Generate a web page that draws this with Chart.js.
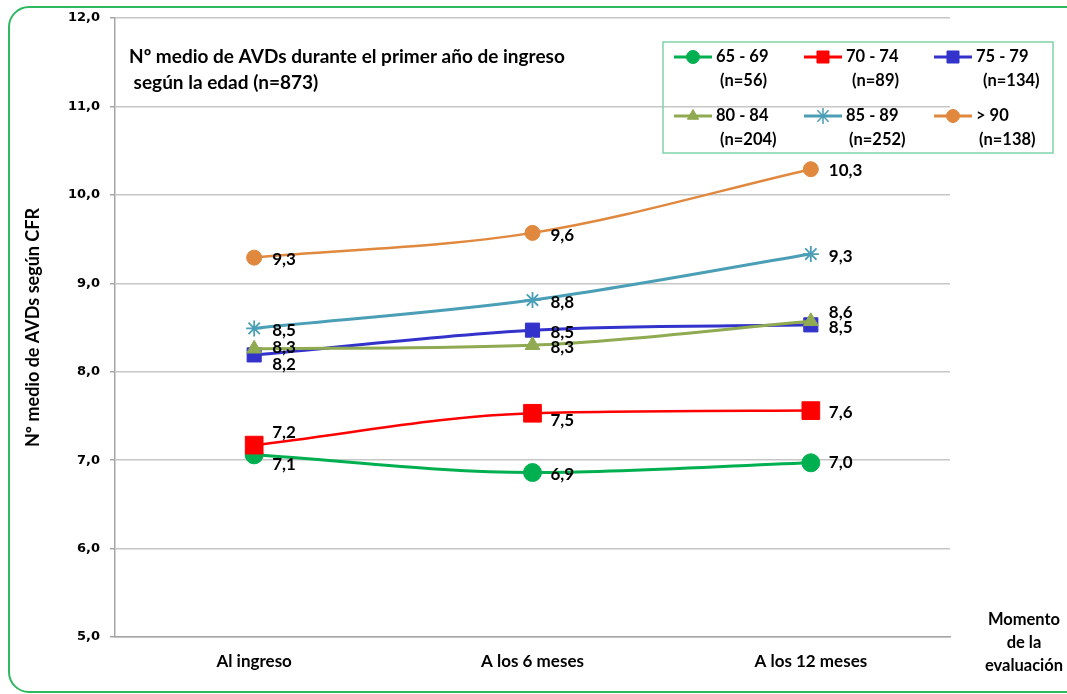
<!DOCTYPE html>
<html>
<head>
<meta charset="utf-8">
<script src="https://cdn.jsdelivr.net/npm/chart.js@4.4.1/dist/chart.umd.min.js"></script>
<style>
html,body{margin:0;padding:0;background:#fff;}
#wrap{position:relative;width:1067px;height:694px;}
</style>
</head>
<body>
<div id="wrap"><canvas id="c" width="1067" height="694"></canvas></div>
<script>
// ---- data ----
const categories = ["Al ingreso", "A los 6 meses", "A los 12 meses"];
const seriesNames = ["65 - 69", "70 - 74", "75 - 79", "80 - 84", "85 - 89", "> 90"];
const seriesN = ["(n=56)", "(n=89)", "(n=134)", "(n=204)", "(n=252)", "(n=138)"];
const s65_69 = [7.06, 6.86, 6.97];
const s70_74 = [7.17, 7.53, 7.56];
const s75_79 = [8.19, 8.47, 8.53];
const s80_84 = [8.26, 8.30, 8.57];
const s85_89 = [8.49, 8.81, 9.33];
const s90 = [9.29, 9.57, 10.29];
const yTicks = [5, 6, 7, 8, 9, 10, 11, 12];
const chartTitle = ["Nº medio de AVDs durante el primer año de ingreso", " según la edad (n=873)"];
const yTitle = "Nº medio de AVDs según CFR";
const xTitle = ["Momento", "de la", "evaluación"];

// ---- styles ----
const styles = [
  {color:"#00B050", pointStyle:"circle", radius:9, width:3, dy:[10,2,0]},
  {color:"#FF0000", pointStyle:"rect", radius:12.5, width:2.5, dy:[-13,7,2]},
  {color:"#3333CC", pointStyle:"rect", radius:10, width:3, dy:[10,2,3]},
  {color:"#8FAA50", pointStyle:"triangle", radius:8.5, width:3, dy:[-1,2,-9]},
  {color:"#4A9EB6", pointStyle:"star", radius:8, width:3, dy:[2,2,2]},
  {color:"#E0883E", pointStyle:"circle", radius:7.5, width:2.5, dy:[2,3,1]}
];
const seriesData = [s65_69, s70_74, s75_79, s80_84, s85_89, s90];
const FONT = "Lato";

const datasets = seriesData.map((d, i) => ({
  label: seriesNames[i],
  data: d,
  borderColor: styles[i].color,
  backgroundColor: styles[i].color,
  pointBackgroundColor: styles[i].color,
  pointBorderColor: styles[i].color,
  pointStyle: styles[i].pointStyle,
  pointRadius: styles[i].radius,
  pointHoverRadius: styles[i].radius,
  pointBorderWidth: styles[i].pointStyle === "star" ? 1.8 : 1,
  borderWidth: styles[i].width,
  tension: 0.3,
  cubicInterpolationMode: "monotone",
  order: 6 - i,
  labelDy: styles[i].dy
}));

function fmt(v){ return v.toFixed(1).replace(".", ","); }

const decor = {
  id: "decor",
  beforeDraw(chart){
    const ctx = chart.ctx;
    ctx.save();
    ctx.fillStyle = "#fff";
    ctx.fillRect(0,0,chart.width,chart.height);
    ctx.strokeStyle = "#2EB860";
    ctx.lineWidth = 2;
    ctx.beginPath();
    ctx.roundRect(9, 7, 1080, 685, 20);
    ctx.stroke();
    ctx.restore();
  },
  afterDatasetsDraw(chart){
    const ctx = chart.ctx;
    ctx.save();
    ctx.fillStyle = "#000";
    ctx.textBaseline = "middle";
    ctx.textAlign = "left";
    ctx.font = "bold 17px " + FONT;
    chart.data.datasets.forEach((ds, i) => {
      const meta = chart.getDatasetMeta(i);
      meta.data.forEach((pt, j) => {
        ctx.fillText(fmt(ds.data[j]), pt.x + 18, pt.y + ds.labelDy[j]);
      });
    });
    // title inside plot
    ctx.font = "bold 19px " + FONT;
    ctx.fillText(chartTitle[0], 129, 57);
    ctx.fillText(chartTitle[1], 129, 83);
    // x axis title
    ctx.font = "bold 16.5px " + FONT;
    ctx.textAlign = "center";
    xTitle.forEach((t, k) => ctx.fillText(t, 1024, 620 + k * 23));
    // legend
    ctx.strokeStyle = "#7FD3A8";
    ctx.lineWidth = 1.5;
    ctx.strokeRect(663, 42, 390, 111);
    const colX = [674, 804, 934];
    const rowY = [57, 116];
    const nX = [720, 852, 983, 720, 849, 979];
    ctx.font = "bold 16.5px " + FONT;
    ctx.textAlign = "left";
    chart.data.datasets.forEach((ds, i) => {
      const cx = colX[i % 3], cy = rowY[Math.floor(i / 3)];
      ctx.strokeStyle = ds.borderColor;
      ctx.fillStyle = ds.borderColor;
      ctx.lineWidth = 3;
      ctx.beginPath();
      ctx.moveTo(cx, cy);
      ctx.lineTo(cx + 38, cy);
      ctx.stroke();
      ctx.lineWidth = ds.pointStyle === "star" ? 1.5 : 1;
      Chart.helpers.drawPoint(ctx, {
        pointStyle: ds.pointStyle,
        radius: ds.pointStyle === "rect" ? 8.5 : (ds.pointStyle === "star" ? 8 : 6.5),
        borderWidth: ds.pointStyle === "star" ? 1.5 : 1
      }, cx + 19, cy);
      ctx.fillStyle = "#000";
      ctx.fillText(seriesNames[i], cx + 42, cy);
      ctx.fillText(seriesN[i], nX[i], cy + 24);
    });
    ctx.restore();
  }
};

new Chart(document.getElementById("c"), {
  type: "line",
  data: { labels: categories, datasets },
  options: {
    responsive: false,
    animation: false,
    events: [],
    layout: { padding: { left: 0, top: 18, right: 117, bottom: 0 } },
    plugins: { legend: { display: false }, tooltip: { enabled: false } },
    scales: {
      x: {
        offset: true,
        grid: { display: false, drawTicks: false },
        border: { display: true, color: "#A6A6A6", width: 1.5 },
        ticks: { color: "#000", font: { family: FONT, weight: "bold", size: 17 }, padding: 14 },
        afterFit(s){ s.height = 57; }
      },
      y: {
        min: 5, max: 12,
        afterBuildTicks(s){ s.ticks = yTicks.map(v => ({ value: v })); },
        grid: { color: "#C6C6C6", lineWidth: 1.5, tickLength: 5, tickColor: "#A6A6A6", drawTicks: true },
        border: { display: true, color: "#A6A6A6", width: 1.5 },
        ticks: { color: "#000", font: { family: "DejaVu Sans", weight: "bold", size: 13 }, padding: 10,
                 callback: v => fmt(v) },
        title: { display: true, text: yTitle, color: "#000",
                 font: { family: FONT, weight: "bold", size: 18 }, padding: { top: 22, bottom: 0 } },
        afterFit(s){ s.width = 115; }
      }
    }
  },
  plugins: [decor]
});
</script>
</body>
</html>
